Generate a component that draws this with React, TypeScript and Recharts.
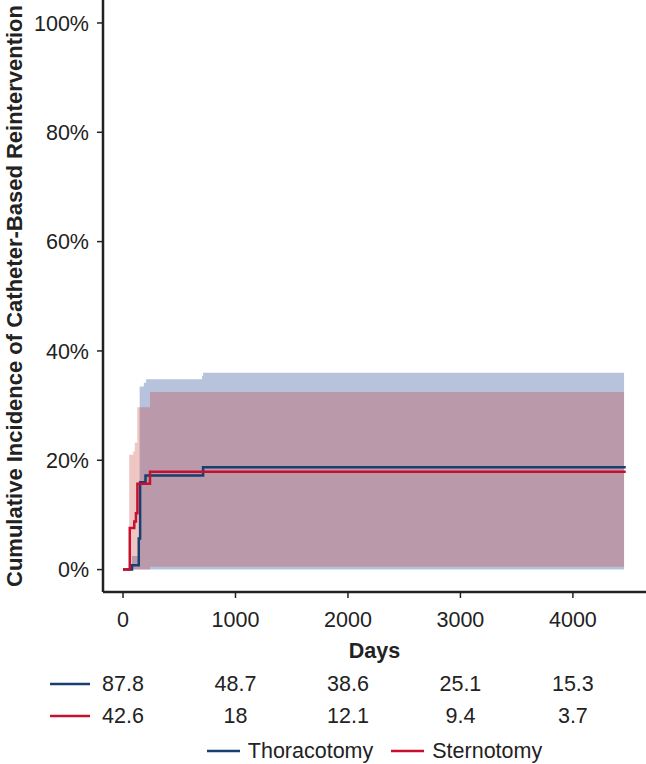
import { ComposedChart, Line, Area, XAxis, YAxis, Legend } from "recharts";

// step estimates (days, % cumulative incidence)
const thorDays = [0, 80, 140, 152, 200, 712, 4470];
const thorInc = [0, 0.8, 5.7, 16.0, 17.2, 18.7, 18.7];
const sternDays = [0, 60, 100, 115, 128, 240, 4470];
const sternInc = [0, 7.6, 8.8, 10.3, 15.7, 17.9, 17.9];

// confidence bands
const thorBandDays = [80, 148, 185, 205, 703, 712, 4455];
const thorLower = [0, 0, 0, 0, 0, 0, 0];
const thorUpper = [2.5, 33.5, 34.2, 34.8, 35.4, 36.0, 36.0];
const sternBandDays = [55, 90, 105, 127, 240, 4455];
const sternLower = [0, 0, 0, 0, 0.5, 0.5];
const sternUpper = [21.0, 21.6, 23.2, 29.7, 32.5, 32.5];

const dayTicks = [0, 1000, 2000, 3000, 4000];
const pctTicks = [0, 20, 40, 60, 80, 100];
const thorAtRisk = ["87.8", "48.7", "38.6", "25.1", "15.3"];
const sternAtRisk = ["42.6", "18", "12.1", "9.4", "3.7"];

const BLUE = "#173f70";
const RED = "#c8102e";
const INK = "#222";
const FONT = '"Liberation Sans", Arial, sans-serif';

const thorLine = thorDays.map((d, i) => ({ day: d, value: thorInc[i] }));
const sternLine = sternDays.map((d, i) => ({ day: d, value: sternInc[i] }));
const thorBand = thorBandDays.map((d, i) => ({ day: d, range: [thorLower[i], thorUpper[i]] }));
const sternBand = sternBandDays.map((d, i) => ({ day: d, range: [sternLower[i], sternUpper[i]] }));

function DayTick(props: any) {
  const { x, y, payload } = props;
  const i = dayTicks.indexOf(payload.value);
  const txt = { textAnchor: "middle" as const, dominantBaseline: "central" as const, fontSize: 21.5, fill: INK, fontFamily: FONT };
  return (
    <g>
      <text x={x} y={y + 20} {...txt}>{payload.value}</text>
      <text x={x} y={y + 84} {...txt}>{thorAtRisk[i]}</text>
      <text x={x} y={y + 116} {...txt}>{sternAtRisk[i]}</text>
      {i === 0 && (
        <>
          <line x1={x - 73} x2={x - 33} y1={y + 84} y2={y + 84} stroke={BLUE} strokeWidth={2.5} />
          <line x1={x - 73} x2={x - 33} y1={y + 116} y2={y + 116} stroke={RED} strokeWidth={2.5} />
        </>
      )}
    </g>
  );
}

function LegendBox() {
  const items = [
    { name: "Thoracotomy", color: BLUE },
    { name: "Sternotomy", color: RED },
  ];
  return (
    <div
      style={{
        display: "flex",
        justifyContent: "center",
        alignItems: "center",
        paddingLeft: 103,
        boxSizing: "border-box",
        height: 26,
        fontFamily: FONT,
        fontSize: 21.5,
        color: INK,
      }}
    >
      {items.map((it, k) => (
        <div key={it.name} style={{ display: "flex", alignItems: "center", marginLeft: k ? 18 : 0 }}>
          <svg width={33} height={4}>
            <line x1={0} x2={33} y1={2} y2={2} stroke={it.color} strokeWidth={2.5} />
          </svg>
          <span style={{ marginLeft: 8 }}>{it.name}</span>
        </div>
      ))}
    </div>
  );
}

export default function App() {
  return (
    <div style={{ position: "absolute", left: 0, top: 0, width: 646, height: 764, background: "#fff" }}>
      <ComposedChart width={646} height={764} margin={{ top: 0, right: 0, bottom: 0, left: 0 }}>
        <XAxis
          dataKey="day"
          type="number"
          domain={[-178, 4650]}
          ticks={dayTicks}
          height={146}
          tick={<DayTick />}
          tickSize={6}
          axisLine={{ stroke: INK, strokeWidth: 2.5 }}
          tickLine={{ stroke: INK, strokeWidth: 1.5 }}
          allowDataOverflow
          label={{
            content: (p: any) => (
              <text
                x={p.viewBox.x + p.viewBox.width / 2}
                y={p.viewBox.y + 59}
                textAnchor="middle"
                dominantBaseline="central"
                fontSize={21.5}
                fontWeight="bold"
                fill={INK}
                fontFamily={FONT}
              >
                Days
              </text>
            ),
          }}
        />
        <YAxis
          type="number"
          domain={[-4.1, 104.2]}
          ticks={pctTicks}
          width={103}
          tickFormatter={(v: number) => `${v}%`}
          tick={{ fontSize: 21.5, fill: INK, fontFamily: FONT }}
          tickSize={6}
          tickMargin={8}
          axisLine={{ stroke: INK, strokeWidth: 2.5 }}
          tickLine={{ stroke: INK, strokeWidth: 1.5 }}
          allowDataOverflow
          label={{
            content: (p: any) => (
              <text
                x={p.viewBox.x + 14}
                y={p.viewBox.y + p.viewBox.height / 2}
                transform={`rotate(-90, ${p.viewBox.x + 14}, ${p.viewBox.y + p.viewBox.height / 2})`}
                textAnchor="middle"
                dominantBaseline="central"
                fontSize={22}
                fontWeight="bold"
                fill={INK}
                fontFamily={FONT}
              >
                Cumulative Incidence of Catheter-Based Reintervention
              </text>
            ),
          }}
        />
        <Area
          data={thorBand}
          dataKey="range"
          type="stepAfter"
          stroke="none"
          fill="#12378a"
          fillOpacity={0.3}
          isAnimationActive={false}
          legendType="none"
          activeDot={false}
        />
        <Area
          data={sternBand}
          dataKey="range"
          type="stepAfter"
          stroke="none"
          fill="#c41a18"
          fillOpacity={0.25}
          isAnimationActive={false}
          legendType="none"
          activeDot={false}
        />
        <Line
          data={thorLine}
          dataKey="value"
          name="Thoracotomy"
          type="stepAfter"
          stroke={BLUE}
          strokeWidth={2.5}
          dot={false}
          activeDot={false}
          isAnimationActive={false}
        />
        <Line
          data={sternLine}
          dataKey="value"
          name="Sternotomy"
          type="stepAfter"
          stroke={RED}
          strokeWidth={2.5}
          dot={false}
          activeDot={false}
          isAnimationActive={false}
        />
        <Legend verticalAlign="bottom" height={26} content={() => <LegendBox />} />
      </ComposedChart>
    </div>
  );
}
